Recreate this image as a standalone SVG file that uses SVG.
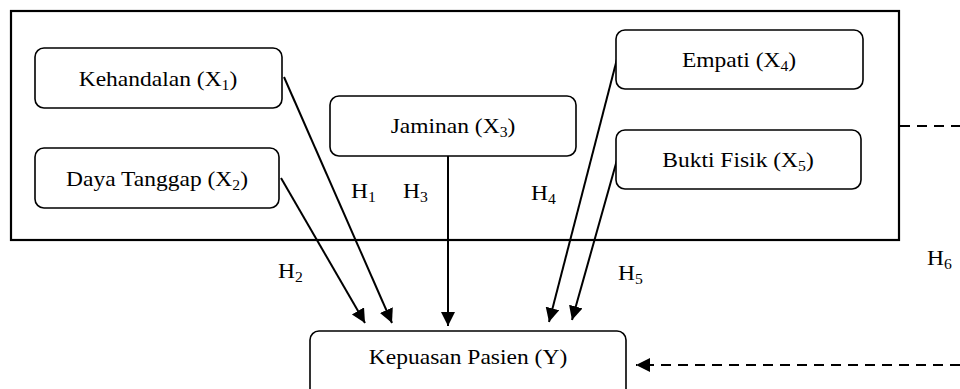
<svg xmlns="http://www.w3.org/2000/svg" width="960" height="389" viewBox="0 0 960 389">
<style>
.box{fill:#fff;stroke:#000;stroke-width:1.6}
.frame{fill:none;stroke:#000;stroke-width:2.2}
text{font-family:"Liberation Serif","Times New Roman",serif;font-size:21px;fill:#000}
.c{text-anchor:middle}
.sub{font-size:14px}
.ln{stroke:#000;stroke-width:2;fill:none}
.dash{stroke:#000;stroke-width:2;fill:none;stroke-dasharray:10 7}
</style>
<defs>
<marker id="ah" markerUnits="userSpaceOnUse" markerWidth="15" markerHeight="15" refX="14" refY="7" orient="auto">
<path d="M0,0 L14,7 L0,14 z" fill="#000"/>
</marker>
</defs>
<rect class="frame" x="11" y="11" width="888" height="229"/>
<g id="connectors">
<line class="ln" x1="284" y1="77" x2="392" y2="323" marker-end="url(#ah)"/>
<line class="ln" x1="281" y1="178" x2="365" y2="323" marker-end="url(#ah)"/>
<line class="ln" x1="448" y1="156" x2="448" y2="326" marker-end="url(#ah)"/>
<line class="ln" x1="617" y1="59" x2="549" y2="322" marker-end="url(#ah)"/>
<line class="ln" x1="617" y1="160" x2="572" y2="320" marker-end="url(#ah)"/>
<line class="dash" x1="900" y1="126" x2="960" y2="126"/>
<line class="dash" x1="960" y1="365" x2="636" y2="365" marker-end="url(#ah)"/>
<text transform="translate(351,198) scale(1.12 1)">H<tspan class="sub" dy="4">1</tspan></text>
<text transform="translate(403,198) scale(1.12 1)">H<tspan class="sub" dy="4">3</tspan></text>
<text transform="translate(531,200) scale(1.12 1)">H<tspan class="sub" dy="4">4</tspan></text>
<text transform="translate(278,278) scale(1.12 1)">H<tspan class="sub" dy="4">2</tspan></text>
<text transform="translate(618,280) scale(1.12 1)">H<tspan class="sub" dy="4">5</tspan></text>
<text transform="translate(927,265) scale(1.12 1)">H<tspan class="sub" dy="4">6</tspan></text>
</g>
<g id="x1">
<rect class="box" x="35" y="48" width="247" height="60" rx="9"/>
<text class="c" transform="translate(158,86) scale(1.12 1)">Kehandalan (X<tspan class="sub" dy="4">1</tspan><tspan dy="-4">)</tspan></text>
</g>
<g id="x2">
<rect class="box" x="35" y="148" width="244" height="60" rx="9"/>
<text class="c" transform="translate(157,186) scale(1.12 1)">Daya Tanggap (X<tspan class="sub" dy="4">2</tspan><tspan dy="-4">)</tspan></text>
</g>
<g id="x3">
<rect class="box" x="330" y="96" width="246" height="60" rx="9"/>
<text class="c" transform="translate(453,133) scale(1.12 1)">Jaminan (X<tspan class="sub" dy="4">3</tspan><tspan dy="-4">)</tspan></text>
</g>
<g id="x4">
<rect class="box" x="616" y="30" width="247" height="59" rx="9"/>
<text class="c" transform="translate(739,67) scale(1.12 1)">Empati (X<tspan class="sub" dy="4">4</tspan><tspan dy="-4">)</tspan></text>
</g>
<g id="x5">
<rect class="box" x="616" y="130" width="245" height="59" rx="9"/>
<text class="c" transform="translate(738,167) scale(1.12 1)">Bukti Fisik (X<tspan class="sub" dy="4">5</tspan><tspan dy="-4">)</tspan></text>
</g>
<g id="y">
<rect class="box" x="310" y="331" width="316" height="70" rx="9"/>
<text class="c" transform="translate(468,364) scale(1.12 1)">Kepuasan Pasien (Y)</text>
</g>
</svg>
